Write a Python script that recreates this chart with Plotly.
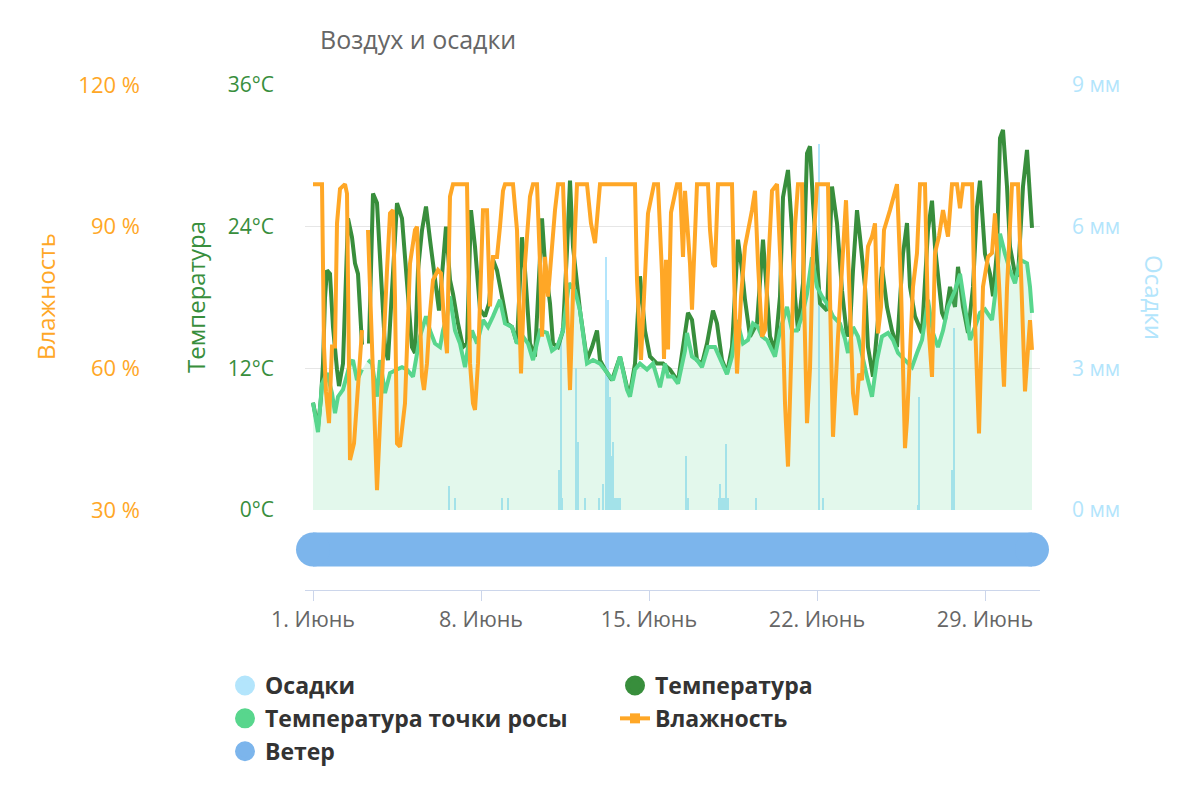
import plotly.graph_objects as go

# hours counted from 1 June 00:00 (None = gap in the record)
temp_hours = [0, 3, 5, 8, 10, 12, 14, 17, 20, 24, 26, 30, 33, 35, 39, 42, 45, 48, 49, 52,
              56, 59, 60, 64, 67, 72, 75, 79, 84, 89, 94, 99, 102, 105, 109, 113, 117, 120,
              124, 126, 130, 133, 137, 140, 145, 150, 154, 158, 162, 167, 172, 176, 180, 184,
              189, 194, 199, 204, 209, 212, 217, 222, 229, 232, 237, 240, 245, 250, 254, 257,
              260, 264, 267, 274, 279, 284, 287, 292, 299, 307, 314, 317, 322, 327, 332, 337,
              344, 350, 357, 365, 372, 375, 379, 384, 389, 394, 400, 404, 409, 414, 419, 425,
              429, 432, 437, 444, 450, 454, 457, 462, 467, 470, 475, 479, 482, 485, 490, 494,
              497, 500, 504, 507, 514, 519, 524, 529, 534, 537, 540, 544, 547, 552, 555, 560,
              565, 569, 574, 579, 584, 590, 594, 597, 602, 609, 615, 619, 622, 629, 632, 637,
              642, 645, 650, 655, 660, 664, 667, 672, 677, 680, 684, 687, 690, 694, 697, 702,
              705, 710, 714, 717, 719]
temp_c = [9.1, 8.0, 7.0, 9.5, 12.4, 18.0, 20.3, 20.0, 15.5, 11.9, 10.5, 12.4, 20.0, 24.7, 23.1,
          20.9, 20.0, 15.2, 14.0, None,
          14.1, 23.7, 26.8, 26.0, 20.9, 13.8, 12.7, 18.1, 26.0, 24.7, 19.5, 13.8, 13.3, 20.3,
          23.7, 25.7, 22.9, 20.9, 18.1, 16.9, 20.9, 24.0, 19.5, 18.3, 15.8, 13.8, 14.1, 25.4,
          22.3, 17.0, 16.4, 17.5, 21.2, 20.3, 18.1, 15.8, 15.5, 14.1, 23.1, 20.3, 14.1, 13.0,
          24.7, 20.9, 17.5, 14.1, 13.8, 15.2, 22.0, 27.9, 22.3, 19.0, 16.9, 12.7, 13.8, 15.2,
          12.7, 11.9, 11.0, 13.0, 10.4, 9.9, 12.4, 19.8, 15.2, 13.0, 12.4, 12.4, 11.9, 10.9,
          15.2, 16.7, 16.1, 12.7, 12.4, 14.1, 16.9, 15.8, 12.7, 11.6, 13.8, 22.9, 20.3, 17.8,
          14.7, 15.8, 22.9, 18.1, 14.7, 13.5, 18.1, 26.5, 28.8, 23.7, 18.1, 15.2, 19.2, 30.2,
          30.8, 26.0, 20.9, 17.5, 16.9, 27.4, 24.3, 18.6, 14.7, 15.5, 20.3, 25.4, 23.1, 18.9,
          13.8, 11.3, 16.1, 20.6, 17.2, 15.2, 13.8, 21.7, 24.3, 18.9, 16.4, 15.0, 23.7, 26.2,
          22.3, 16.7, 16.1, 18.9, 17.2, 20.6, 17.2, 15.0, 18.9, 25.7, 27.9, 21.7, 20.0, 18.1,
          22.0, 31.5, 32.2, 27.4, 22.3, 20.0, 19.8, 27.4, 30.5, 25.7, 23.9]

dew_hours = [0, 3, 5, 9, 14, 19, 22, 25, 30, 37, 40, 44, 49, 52,
             55, 59, 64, 67, 72, 77, 84, 89, 94, 100, 107, 113, 117, 122, 127, 130, 134, 137,
             142, 147, 152, 155, 159, 164, 170, 175, 180, 187, 192, 199, 204, 210, 215, 220,
             227, 234, 239, 244, 250, 256, 262, 267, 274, 280, 287, 294, 300, 307, 314, 317,
             322, 327, 334, 340, 347, 352, 355, 360, 365, 372, 374, 379, 384, 389, 395, 402,
             409, 414, 419, 424, 430, 435, 440, 445, 449, 454, 462, 467, 474, 479, 484, 489,
             494, 499, 504, 509, 514, 520, 527, 532, 535, 540, 545, 550, 554, 559, 564, 569,
             575, 580, 585, 592, 599, 604, 609, 615, 620, 625, 630, 635, 642, 647, 652, 657,
             662, 667, 672, 679, 684, 687, 692, 697, 702, 707, 714, 717, 719]
dew_c = [9.1, 7.5, 6.6, 10.7, 11.6, 9.9, 8.2, 9.6, 10.2, 12.4, 12.7, 11.0, 11.9, None,
         12.7, 12.4, 9.6, 12.7, 9.9, 11.6, 11.9, 12.1, 11.9, 11.3, 14.7, 16.4, 15.2, 14.1,
         13.8, 15.2, 16.4, 18.1, 15.2, 14.1, 12.1, 13.8, 15.2, 14.1, 16.1, 15.5, 16.4, 17.8,
         15.8, 15.5, 14.1, 14.7, 14.1, 12.7, 15.2, 15.0, 13.5, 13.8, 15.2, 19.2, 18.6, 16.9,
         12.4, 12.7, 12.4, 11.6, 11.0, 13.0, 10.2, 9.6, 11.9, 12.4, 11.9, 12.4, 10.4, 12.4,
         11.3, 11.3, 10.7, 13.5, 15.0, 13.0, 12.7, 12.1, 13.8, 13.8, 12.4, 11.5, 13.0, 16.1,
         14.1, 14.4, 15.8, 15.5, 14.7, 14.4, 13.0, 15.2, 17.2, 15.2, 15.2, 16.4, 18.3, 21.4,
         18.9, 18.1, 17.5, 16.4, 15.8, 14.5, 13.3, 15.5, 14.7, 12.7, 11.3, 9.6, 12.7, 14.7,
         15.0, 14.4, 13.3, 12.7, 12.1, 13.3, 14.4, 17.8, 15.0, 13.8, 15.2, 17.2, 18.6, 20.0,
         17.2, 14.4, 15.5, 16.7, 17.0, 16.1, 19.5, 23.4, 21.7, 20.3, 19.2, 21.2, 20.9, 18.9,
         16.7]

hum_hours = [0, 9, 11, 13, 16, 19, 22, 24, 27, 32, 34, 37, 41, 45, 49, 52,
             55, 58, 62, 64, 67, 71, 74, 77, 80, 82, 84, 87, 92, 97, 102, 104, 107, 109, 111,
             114, 117, 120, 125, 128, 131, 134, 137, 140, 154, 157, 160, 162, 165, 170, 174,
             177, 180, 184, 187, 190, 192, 200, 204, 206, 208, 212, 217, 220, 224, 227, 229,
             232, 235, 242, 245, 250, 253, 257, 262, 264, 274, 278, 282, 287, 322, 324, 328,
             335, 341, 345, 349, 351, 353, 355, 358, 361, 364, 367, 370, 372, 377, 379, 384,
             395, 397, 400, 402, 405, 419, 421, 424, 428, 432, 439, 442, 445, 449, 452, 456,
             459, 464, 466, 469, 472, 475, 479, 482, 485, 489, 491, 494, 497, 500, 504, 515,
             517, 520, 525, 529, 533, 537, 540, 543, 546, 549, 552, 555, 559, 562, 565, 568,
             571, 577, 584, 588, 592, 594, 597, 600, 604, 607, 612, 615, 619, 622, 626, 630,
             635, 639, 644, 647, 650, 659, 662, 664, 666, 670, 675, 679, 682, 686, 691, 694,
             699, 705, 710, 712, 717, 719]
hum_pct = [99, 99, 64.6, 55, 48.4, 64.6, 64.6, 90.7, 98, 99, 97, 40.6, 44.1, 57.5, 68.1, None,
           89.3, 70, 48.4, 34.2, 48.4, 70, 80.8, 92.8, 93.5, 75, 44.1, 43.4, 52.6, 82.2, 89.3,
           90.0, 70, 58.2, 55.4, 61.1, 71.7, 78.7, 80.8, 80.1, 70, 63.2, 96.4, 99, 99, 61.1,
           52.6, 51.2, 61.1, 93.5, 93.5, 73.1, 83.6, 83.6, 90, 97.6, 99, 99, 89.3, 75.2, 58.9,
           82.2, 96.4, 99, 99, 82.2, 66.7, 83.6, 75.2, 93.5, 99, 99, 82.2, 55.4, 89.3, 99, 99,
           90.7, 86.5, 99, 99, 78.7, 61.8, 92.8, 99, 99, 80, 62, 83, 64, 93, 96, 99, 99, 83.6,
           97.6, 82.2, 72.4, 99, 99, 89.3, 82.2, 81.5, 99, 99, 80, 58.9, 75, 85.8, 93.5, 97.6,
           82.2, 66.7, 68.1, 85, 97.6, 99, 90, 75.2, 52.6, 39.2, 68.1, 90, 99, 99, 75, 48.4, 60,
           85, 99, 99, 75, 45.5, 66.7, 80, 95.6, 73.1, 54.7, 50.1, 58.9, 57.5, 77.3, 85.8, 87.9,
           90.7, 67.4, 73, 89.3, 93.5, 99, 77.3, 43.1, 49.1, 63.2, 77.3, 84.4, 99, 99, 70.2,
           58.2, 84.4, 88, 93.5, 87.9, 99, 99, 93.9, 99, 99, 70, 56.1, 46.2, 77.3, 83.6, 84.4,
           92.8, 78, 56.1, 77, 99, 99, 70.2, 55.1, 70.2, 63.9]

rain_hours = [136, 142, 189, 195, 246, 248, 249, 263, 265, 272, 286, 290, 293, 295, 297, 299,
              300, 302, 304, 305, 306, 307, 373, 375, 406, 407, 408, 409, 411, 412, 413, 414,
              415, 443, 506, 510, 605, 606, 639, 641]
rain_mm = [0.5, 0.25, 0.25, 0.25, 0.85, 3.85, 0.25, 3.0, 1.45, 0.25, 0.25, 0.55, 5.35, 4.45,
           2.4, 1.15, 1.45, 0.25, 0.25, 0.25, 0.25, 0.25, 1.15, 0.25, 0.25, 0.55, 0.25, 0.25,
           0.25, 0.25, 1.4, 0.25, 0.25, 0.25, 7.75, 0.25, 0.1, 2.4, 0.85, 3.85]

wind_hours = [0, 719]
wind_level = [1, 1]

tick_days = [0, 7, 14, 21, 28]
tick_labels = ["1. Июнь", "8. Июнь", "15. Июнь", "22. Июнь", "29. Июнь"]
temp_ticks = [0, 12, 24, 36]
hum_ticks = [30, 60, 90, 120]
rain_ticks = [0, 3, 6, 9]

C_TEMP = "#388e3c"
C_DEW = "#58d68d"
C_HUM = "#ffa726"
C_RAIN = "#b3e5fc"
C_WIND = "#7cb5ec"


def days(hours):
    return [h / 24 for h in hours]


fig = go.Figure()

fig.add_trace(go.Bar(x=days(rain_hours), y=rain_mm, width=1.6 / 24, yaxis="y",
                     marker=dict(color=C_RAIN, line=dict(width=0)), showlegend=False))
fig.add_trace(go.Scatter(x=days(temp_hours), y=temp_c, yaxis="y2", mode="lines",
                         line=dict(color=C_TEMP, width=4), showlegend=False))
fig.add_trace(go.Scatter(x=days(dew_hours), y=dew_c, yaxis="y2", mode="lines",
                         line=dict(color=C_DEW, width=4), fill="tozeroy",
                         fillcolor="rgba(88,214,141,0.17)", showlegend=False))
fig.add_trace(go.Scatter(x=days(hum_hours), y=hum_pct, yaxis="y3", mode="lines",
                         line=dict(color=C_HUM, width=4), showlegend=False))
fig.add_trace(go.Scatter(x=days(wind_hours), y=wind_level, yaxis="y4", mode="lines+markers",
                         line=dict(color=C_WIND, width=34), marker=dict(color=C_WIND, size=34),
                         cliponaxis=False, showlegend=False))

# legend entries
for name, color in [("Осадки", C_RAIN), ("Температура", C_TEMP),
                    ("Температура точки росы", C_DEW)]:
    fig.add_trace(go.Scatter(x=[None], y=[None], name=name, mode="markers",
                             marker=dict(symbol="circle", size=16, color=color,
                                         line=dict(color=color, width=4))))
fig.add_trace(go.Scatter(x=[None], y=[None], name="Влажность", mode="lines+markers",
                         line=dict(color=C_HUM, width=4),
                         marker=dict(symbol="square", size=10, color=C_HUM)))
fig.add_trace(go.Scatter(x=[None], y=[None], name="Ветер", mode="markers",
                         marker=dict(symbol="circle", size=16, color=C_WIND,
                                     line=dict(color=C_WIND, width=4))))

# the page puts the figure 8 px in from the top-left corner
OFF = 8
W, H = 1200, 800
PW, PH = 880, 505
L, T = 160 - OFF, 85 - OFF
R, B = W - L - PW, H - T - PH


def px_x(x):
    return (x - OFF - L) / PW


def px_y(y):
    return (H - B - (y - OFF)) / PH


def axis_title(text, x, color, angle):
    return dict(text=text, x=px_x(x), y=px_y(297), xref="paper", yref="paper",
                xanchor="center", yanchor="middle", textangle=angle, showarrow=False,
                font=dict(size=24, color=color))


fig.update_layout(
    width=W, height=H,
    margin=dict(l=L, r=R, t=T, b=B),
    plot_bgcolor="white", paper_bgcolor="white",
    font=dict(family="Open Sans", size=21, color="#666666"),
    title=dict(text="Воздух и осадки", x=(320 - OFF) / W, xanchor="left",
               y=1 - (40 - OFF) / H, yanchor="middle", font=dict(size=25, color="#666666")),
    bargap=0,
    xaxis=dict(domain=[px_x(305), 1], range=[-8 / 24, -8 / 24 + 735 / 24],
               anchor="free", position=0, showline=True, linecolor="#ccd6eb",
               ticks="outside", ticklen=10, tickcolor="#ccd6eb",
               tickvals=tick_days, ticktext=tick_labels, showgrid=False, zeroline=False,
               tickfont=dict(size=21.5, color="#666666")),
    yaxis=dict(domain=[px_y(510), 1], range=[0, 9], side="right", anchor="x",
               tickvals=rain_ticks, ticktext=[f"{v} мм" for v in rain_ticks],
               tickfont=dict(color=C_RAIN), showgrid=True, gridcolor="#e6e6e6",
               zeroline=False, ticklabelstandoff=31),
    yaxis2=dict(overlaying="y", side="left", anchor="x", range=[0, 36],
                tickvals=temp_ticks, ticktext=[f"{v}°C" for v in temp_ticks],
                tickfont=dict(color=C_TEMP), showgrid=False, zeroline=False,
                ticklabelstandoff=30),
    yaxis3=dict(overlaying="y", side="left", anchor="free", position=px_x(168),
                range=[30, 120], tickvals=hum_ticks, ticktext=[f"{v} %" for v in hum_ticks],
                tickfont=dict(color=C_HUM, size=22), showgrid=False, zeroline=False,
                ticklabelstandoff=28),
    yaxis4=dict(domain=[px_y(575), px_y(524)], range=[0, 2], anchor="x", visible=False),
    legend=dict(orientation="h", x=px_x(225), xanchor="left", y=px_y(664), yanchor="top",
                entrywidth=345, font=dict(size=23, color="#333333", weight="bold")),
    annotations=[
        axis_title("Влажность", 45, C_HUM, -90),
        axis_title("Температура", 195, C_TEMP, -90),
        axis_title("Осадки", 1155, C_RAIN, 90),
    ],
)

fig.write_html("out.html")
